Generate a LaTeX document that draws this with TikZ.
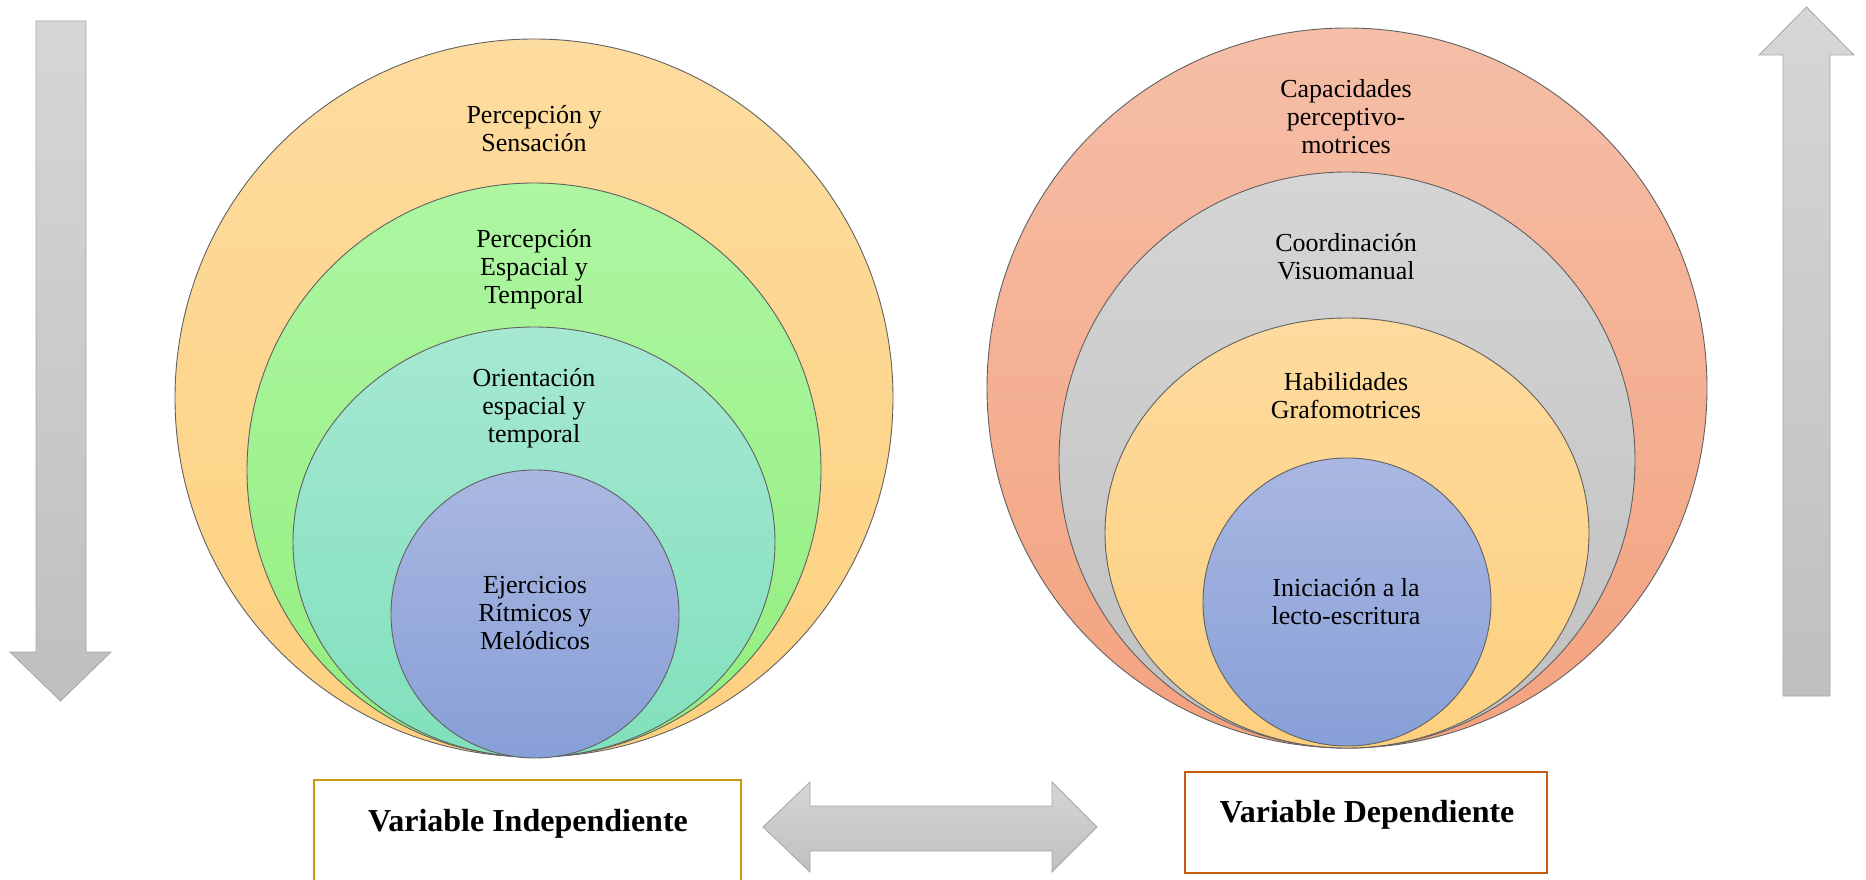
\documentclass[tikz,border=0pt]{standalone}
\usepackage{fontspec}
\setmainfont{Liberation Serif}
\tikzset{
  ring/.style={draw=black!62, line width=0.9pt},
  grayarrow/.style={draw=black!35, line width=0.8pt, top color=gray!32, bottom color=gray!50},
  lbl/.style={align=center, inner sep=0pt, font=\fontsize{26}{28}\selectfont},
  varbox/.style={line width=2pt, fill=white},
  vartext/.style={inner sep=0pt, font=\fontsize{32}{36}\selectfont\bfseries}
}
\definecolor{orA}{HTML}{FDDC9F}\definecolor{orB}{HTML}{FDD07E}
\definecolor{grA}{HTML}{AEF6A2}\definecolor{grB}{HTML}{92EE7E}
\definecolor{tlA}{HTML}{A6E8D2}\definecolor{tlB}{HTML}{80E0BC}
\definecolor{blA}{HTML}{AAB7E1}\definecolor{blB}{HTML}{879FD7}
\definecolor{rdA}{HTML}{F5BEA7}\definecolor{rdB}{HTML}{F4A27F}
\definecolor{gyA}{HTML}{D5D5D5}\definecolor{gyB}{HTML}{C0C0C0}
\definecolor{yeA}{HTML}{FDDA9E}\definecolor{yeB}{HTML}{FDD07F}
\definecolor{goldline}{HTML}{C59A0C}
\definecolor{rustline}{HTML}{C55A11}
\begin{document}
\begin{tikzpicture}[x=1pt,y=-1pt]
\useasboundingbox (0,0) rectangle (1866,880);
\clip (0,0) rectangle (1866,880);

% side arrows
\path[grayarrow] (36,21) -- (86,21) -- (86,652) -- (111,652) -- (60.5,701) -- (10,652) -- (36,652) -- cycle;
\path[grayarrow] (1806.5,7) -- (1854,55) -- (1830,55) -- (1830,696) -- (1783,696) -- (1783,55) -- (1759,55) -- cycle;

% left group
\path[ring, top color=orA, bottom color=orB] (534,398) circle[radius=359pt];
\path[ring, top color=grA, bottom color=grB] (534,470) circle[radius=287pt];
\path[ring, top color=tlA, bottom color=tlB] (534,542) ellipse[x radius=241pt, y radius=215pt];
\path[ring, top color=blA, bottom color=blB] (535,614) circle[radius=144pt];

\node[lbl] (l1) at (534,129) {Percepción y\\Sensación};
\node[lbl] (l2) at (534,269) {Percepción\\Espacial y\\Temporal};
\node[lbl] (l3) at (534,408) {Orientación\\espacial y\\temporal};
\node[lbl] (l4) at (535,613) {Ejercicios\\Rítmicos y\\Melódicos};

% right group
\path[ring, top color=rdA, bottom color=rdB] (1347,388) circle[radius=360pt];
\path[ring, top color=gyA, bottom color=gyB] (1347,460) circle[radius=288pt];
\path[ring, top color=yeA, bottom color=yeB] (1347,533) ellipse[x radius=242pt, y radius=215pt];
\path[ring, top color=blA, bottom color=blB] (1347,602) circle[radius=144pt];

\node[lbl] (r1) at (1346,117) {Capacidades\\perceptivo-\\motrices};
\node[lbl] (r2) at (1346,257) {Coordinación\\Visuomanual};
\node[lbl] (r3) at (1346,396) {Habilidades\\Grafomotrices};
\node[lbl] (r4) at (1346,602) {Iniciación a la\\lecto-escritura};

% bottom
\path[varbox, draw=goldline] (314,780) rectangle (741,900);
\node[vartext] (vi) at (528,824) {Variable Independiente};
\path[varbox, draw=rustline] (1185,772) rectangle (1547,873);
\node[vartext] (vd) at (1367,815) {Variable Dependiente};

\path[grayarrow] (763,827) -- (810,782) -- (810,806) -- (1052,806) -- (1052,782) -- (1097,827) -- (1052,872) -- (1052,851) -- (810,851) -- (810,872) -- cycle;
\end{tikzpicture}
\end{document}
